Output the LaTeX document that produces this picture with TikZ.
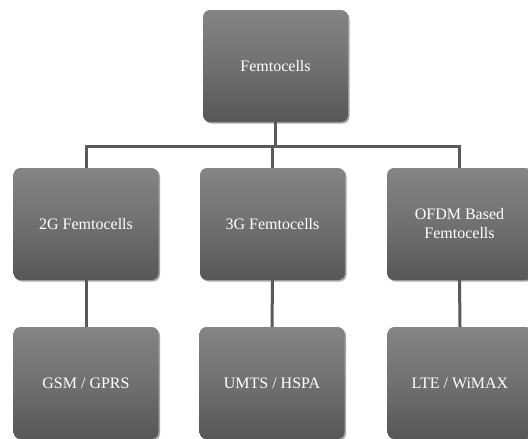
\documentclass[tikz,border=0pt]{standalone}
\usepackage{fontspec}
\setmainfont{Liberation Serif}
\usetikzlibrary{shadows}
\begin{document}
\begin{tikzpicture}[x=1pt,y=-1pt,
  box/.style={draw=none,rounded corners=7pt,minimum width=145pt,minimum height=112pt,
    top color=black!48,bottom color=black!66,middle color=black!56,
    text=white,font=\fontsize{16}{19}\selectfont,align=center,inner sep=0pt,
    drop shadow={shadow xshift=1.5pt,shadow yshift=-1.5pt,opacity=0.35,fill=black}},
  conn/.style={draw=black!65,line width=3pt}]
\useasboundingbox (0,0) rectangle (528,439);
\clip (0,0) rectangle (528,439);
\node[box] (root) at (275.5,66) {Femtocells};
\node[box] (g2) at (86,224) {2G Femtocells};
\node[box] (g3) at (272.5,224) {3G Femtocells};
\node[box] (of) at (459.5,224) {OFDM Based\\Femtocells};
\node[box] (gsm) at (86,383) {GSM / GPRS};
\node[box] (umts) at (272,383) {UMTS / HSPA};
\node[box] (lte) at (460,383) {LTE / WiMAX};
\coordinate (h) at (0,146);
\draw[conn] (root.south) -- (root.south |- h);
\draw[conn] (g2.north) -- (g2.north |- h) -- (of.north |- h) -- (of.north);
\draw[conn] (g3.north) -- (g3.north |- h);
\draw[conn] (g2.south) -- (gsm.north);
\draw[conn] (g3.south) -- (umts.north);
\draw[conn] (of.south) -- (lte.north);
\end{tikzpicture}
\end{document}
